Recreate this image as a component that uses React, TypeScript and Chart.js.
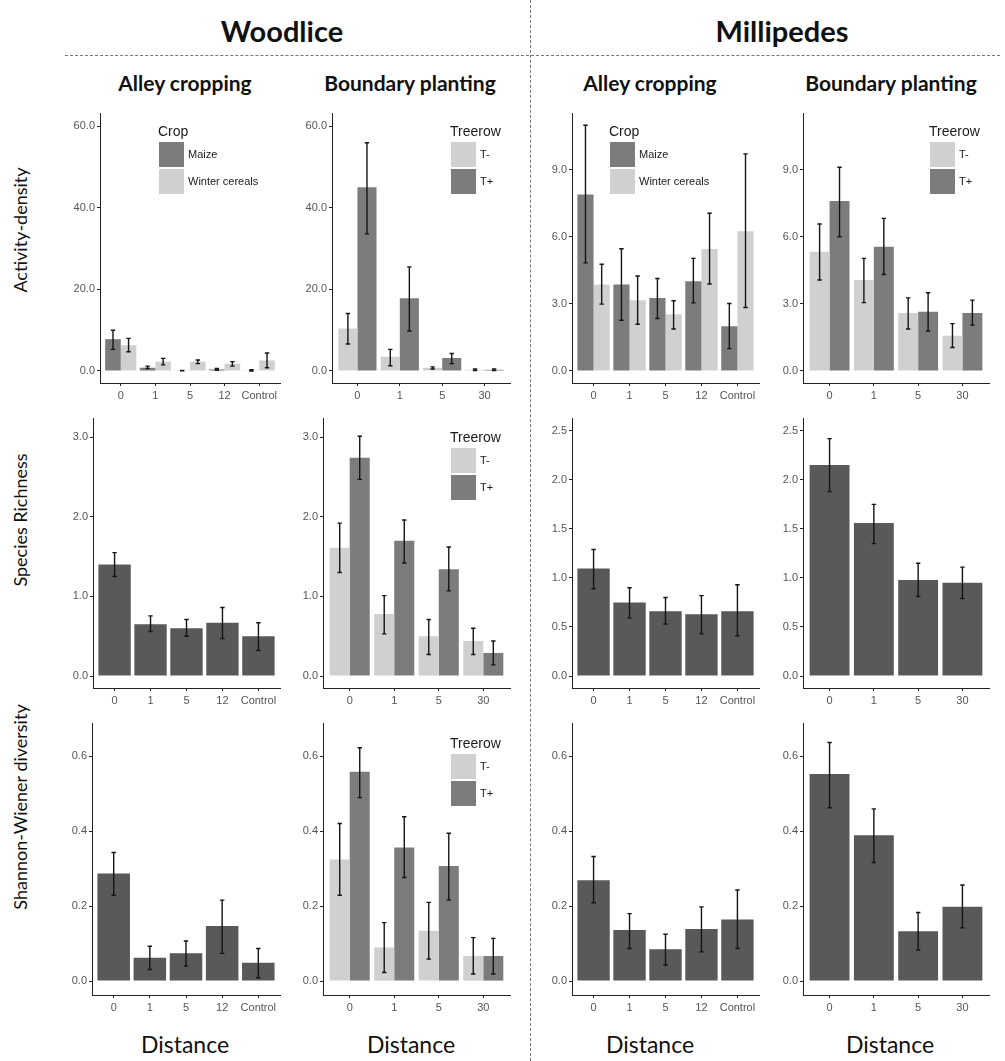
import React, { useEffect, useRef } from "react";
import { Chart, registerables } from "chart.js";
Chart.register(...registerables);

// ---------- categories & series names ----------
const alleyDistances = ["0", "1", "5", "12", "Control"];
const boundaryDistances = ["0", "1", "5", "30"];
const cropSeries = ["Maize", "Winter cereals"];
const treerowSeries = ["T-", "T+"];

// ---------- tick values ----------
const woodActTicks = [0, 20, 40, 60];
const milliActTicks = [0, 3, 6, 9];
const woodRichTicks = [0, 1, 2, 3];
const milliRichTicks = [0, 0.5, 1, 1.5, 2, 2.5];
const shannonTicks = [0, 0.2, 0.4, 0.6];

// ---------- Woodlice: activity-density ----------
const wlAlleyActMaize = [7.8, 0.8, 0.1, 0.4, 0.1];
const wlAlleyActMaizeLo = [5.3, 0.6, 0.05, 0.2, 0.0];
const wlAlleyActMaizeHi = [10.0, 1.2, 0.15, 0.6, 0.3];
const wlAlleyActWinter = [6.3, 2.3, 2.3, 1.8, 2.6];
const wlAlleyActWinterLo = [4.7, 1.5, 1.8, 1.2, 0.8];
const wlAlleyActWinterHi = [8.0, 3.1, 2.7, 2.3, 4.4];

const wlBoundActTminus = [10.4, 3.5, 0.8, 0.3];
const wlBoundActTminusLo = [6.6, 1.3, 0.5, 0.1];
const wlBoundActTminusHi = [14.1, 5.3, 1.0, 0.5];
const wlBoundActTplus = [45.0, 17.8, 3.2, 0.3];
const wlBoundActTplusLo = [33.6, 9.8, 1.8, 0.1];
const wlBoundActTplusHi = [55.9, 25.5, 4.3, 0.5];

// ---------- Millipedes: activity-density ----------
const mpAlleyActMaize = [7.9, 3.87, 3.27, 4.02, 2.0];
const mpAlleyActMaizeLo = [4.84, 2.27, 2.35, 3.05, 1.0];
const mpAlleyActMaizeHi = [11.0, 5.47, 4.14, 5.04, 3.02];
const mpAlleyActWinter = [3.87, 3.17, 2.54, 5.46, 6.26];
const mpAlleyActWinterLo = [2.99, 2.09, 1.88, 3.89, 2.84];
const mpAlleyActWinterHi = [4.78, 4.25, 3.14, 7.06, 9.72];

const mpBoundActTminus = [5.34, 4.07, 2.6, 1.58];
const mpBoundActTminusLo = [4.07, 3.06, 1.88, 1.05];
const mpBoundActTminusHi = [6.58, 5.04, 3.27, 2.12];
const mpBoundActTplus = [7.61, 5.56, 2.65, 2.6];
const mpBoundActTplusLo = [6.01, 4.32, 1.79, 2.05];
const mpBoundActTplusHi = [9.12, 6.83, 3.5, 3.17];

// ---------- Species richness ----------
const wlAlleyRich = [1.4, 0.65, 0.6, 0.67, 0.5];
const wlAlleyRichLo = [1.25, 0.56, 0.5, 0.47, 0.32];
const wlAlleyRichHi = [1.55, 0.755, 0.71, 0.86, 0.67];

const wlBoundRichTminus = [1.61, 0.78, 0.5, 0.44];
const wlBoundRichTminusLo = [1.3, 0.53, 0.27, 0.27];
const wlBoundRichTminusHi = [1.92, 1.01, 0.71, 0.6];
const wlBoundRichTplus = [2.74, 1.7, 1.34, 0.29];
const wlBoundRichTplusLo = [2.47, 1.42, 1.07, 0.14];
const wlBoundRichTplusHi = [3.01, 1.96, 1.62, 0.44];

const mpAlleyRich = [1.095, 0.75, 0.66, 0.63, 0.66];
const mpAlleyRichLo = [0.89, 0.59, 0.53, 0.43, 0.41];
const mpAlleyRichHi = [1.29, 0.9, 0.8, 0.82, 0.93];

const mpBoundRich = [2.15, 1.56, 0.98, 0.95];
const mpBoundRichLo = [1.88, 1.35, 0.81, 0.79];
const mpBoundRichHi = [2.42, 1.75, 1.15, 1.11];

// ---------- Shannon-Wiener diversity ----------
const wlAlleyShan = [0.287, 0.062, 0.074, 0.147, 0.049];
const wlAlleyShanLo = [0.229, 0.031, 0.04, 0.074, 0.009];
const wlAlleyShanHi = [0.343, 0.093, 0.107, 0.216, 0.087];

const wlBoundShanTminus = [0.324, 0.09, 0.134, 0.067];
const wlBoundShanTminusLo = [0.229, 0.023, 0.059, 0.019];
const wlBoundShanTminusHi = [0.42, 0.156, 0.21, 0.116];
const wlBoundShanTplus = [0.558, 0.356, 0.307, 0.067];
const wlBoundShanTplusLo = [0.489, 0.276, 0.216, 0.019];
const wlBoundShanTplusHi = [0.622, 0.438, 0.394, 0.114];

const mpAlleyShan = [0.269, 0.136, 0.085, 0.139, 0.164];
const mpAlleyShanLo = [0.209, 0.087, 0.043, 0.078, 0.087];
const mpAlleyShanHi = [0.332, 0.18, 0.125, 0.198, 0.243];

const mpBoundShan = [0.552, 0.389, 0.133, 0.198];
const mpBoundShanLo = [0.462, 0.316, 0.083, 0.142];
const mpBoundShanHi = [0.636, 0.459, 0.183, 0.256];

// ---------- styling ----------
const DARK = "#595959";
const MID = "#7c7c7c";
const LIGHT = "#d0d0d0";
const AXIS = "#222222";
const TICK = "#555555";
const YW = 45;
const XH = 26;
const PT = 10;
const PR = 12;
const TITLE_FONT = "Lato, 'Open Sans', sans-serif";
const TICK_FONT = "'Liberation Sans', Arial, sans-serif";

type Series = { label: string; mean: number[]; lo: number[]; hi: number[]; color: string };
type Panel = {
  area: [number, number, number, number];
  labels: string[];
  series: Series[];
  yMin: number;
  yMax: number;
  ticks: number[];
  decimals: number;
  legend?: { title: string; dx: number; dy: number };
};

const panels: Panel[] = [
  {
    area: [100, 113, 280, 383], labels: alleyDistances, yMin: -2.94, yMax: 63.2, ticks: woodActTicks, decimals: 1,
    series: [
      { label: cropSeries[0], mean: wlAlleyActMaize, lo: wlAlleyActMaizeLo, hi: wlAlleyActMaizeHi, color: MID },
      { label: cropSeries[1], mean: wlAlleyActWinter, lo: wlAlleyActWinterLo, hi: wlAlleyActWinterHi, color: LIGHT },
    ],
    legend: { title: "Crop", dx: 59, dy: 29 },
  },
  {
    area: [332, 113, 510, 383], labels: boundaryDistances, yMin: -2.94, yMax: 63.2, ticks: woodActTicks, decimals: 1,
    series: [
      { label: treerowSeries[0], mean: wlBoundActTminus, lo: wlBoundActTminusLo, hi: wlBoundActTminusHi, color: LIGHT },
      { label: treerowSeries[1], mean: wlBoundActTplus, lo: wlBoundActTplusLo, hi: wlBoundActTplusHi, color: MID },
    ],
    legend: { title: "Treerow", dx: 119, dy: 29 },
  },
  {
    area: [572, 113, 759, 383], labels: alleyDistances, yMin: -0.54, yMax: 11.55, ticks: milliActTicks, decimals: 1,
    series: [
      { label: cropSeries[0], mean: mpAlleyActMaize, lo: mpAlleyActMaizeLo, hi: mpAlleyActMaizeHi, color: MID },
      { label: cropSeries[1], mean: mpAlleyActWinter, lo: mpAlleyActWinterLo, hi: mpAlleyActWinterHi, color: LIGHT },
    ],
    legend: { title: "Crop", dx: 38, dy: 29 },
  },
  {
    area: [803, 113, 989, 383], labels: boundaryDistances, yMin: -0.54, yMax: 11.55, ticks: milliActTicks, decimals: 1,
    series: [
      { label: treerowSeries[0], mean: mpBoundActTminus, lo: mpBoundActTminusLo, hi: mpBoundActTminusHi, color: LIGHT },
      { label: treerowSeries[1], mean: mpBoundActTplus, lo: mpBoundActTplusLo, hi: mpBoundActTplusHi, color: MID },
    ],
    legend: { title: "Treerow", dx: 127, dy: 29 },
  },
  {
    area: [93, 418, 280, 688], labels: alleyDistances, yMin: -0.15, yMax: 3.24, ticks: woodRichTicks, decimals: 1,
    series: [{ label: "", mean: wlAlleyRich, lo: wlAlleyRichLo, hi: wlAlleyRichHi, color: DARK }],
  },
  {
    area: [323, 418, 510, 688], labels: boundaryDistances, yMin: -0.15, yMax: 3.24, ticks: woodRichTicks, decimals: 1,
    series: [
      { label: treerowSeries[0], mean: wlBoundRichTminus, lo: wlBoundRichTminusLo, hi: wlBoundRichTminusHi, color: LIGHT },
      { label: treerowSeries[1], mean: wlBoundRichTplus, lo: wlBoundRichTplusLo, hi: wlBoundRichTplusHi, color: MID },
    ],
    legend: { title: "Treerow", dx: 128, dy: 30 },
  },
  {
    area: [572, 418, 759, 688], labels: alleyDistances, yMin: -0.122, yMax: 2.63, ticks: milliRichTicks, decimals: 1,
    series: [{ label: "", mean: mpAlleyRich, lo: mpAlleyRichLo, hi: mpAlleyRichHi, color: DARK }],
  },
  {
    area: [803, 418, 989, 688], labels: boundaryDistances, yMin: -0.122, yMax: 2.63, ticks: milliRichTicks, decimals: 1,
    series: [{ label: "", mean: mpBoundRich, lo: mpBoundRichLo, hi: mpBoundRichHi, color: DARK }],
  },
  {
    area: [92, 723, 280, 995], labels: alleyDistances, yMin: -0.037, yMax: 0.688, ticks: shannonTicks, decimals: 1,
    series: [{ label: "", mean: wlAlleyShan, lo: wlAlleyShanLo, hi: wlAlleyShanHi, color: DARK }],
  },
  {
    area: [323, 723, 510, 995], labels: boundaryDistances, yMin: -0.037, yMax: 0.688, ticks: shannonTicks, decimals: 1,
    series: [
      { label: treerowSeries[0], mean: wlBoundShanTminus, lo: wlBoundShanTminusLo, hi: wlBoundShanTminusHi, color: LIGHT },
      { label: treerowSeries[1], mean: wlBoundShanTplus, lo: wlBoundShanTplusLo, hi: wlBoundShanTplusHi, color: MID },
    ],
    legend: { title: "Treerow", dx: 128, dy: 31 },
  },
  {
    area: [572, 723, 759, 995], labels: alleyDistances, yMin: -0.037, yMax: 0.688, ticks: shannonTicks, decimals: 1,
    series: [{ label: "", mean: mpAlleyShan, lo: mpAlleyShanLo, hi: mpAlleyShanHi, color: DARK }],
  },
  {
    area: [803, 723, 989, 995], labels: boundaryDistances, yMin: -0.037, yMax: 0.688, ticks: shannonTicks, decimals: 1,
    series: [{ label: "", mean: mpBoundShan, lo: mpBoundShanLo, hi: mpBoundShanHi, color: DARK }],
  },
];

const errorBarPlugin = {
  id: "errorBars",
  afterDatasetsDraw(chart: any) {
    const ctx = chart.ctx;
    const y = chart.scales.y;
    chart.data.datasets.forEach((ds: any, i: number) => {
      const meta = chart.getDatasetMeta(i);
      meta.data.forEach((bar: any, j: number) => {
        const x = bar.x;
        const lo = y.getPixelForValue(ds.errLo[j]);
        const hi = y.getPixelForValue(ds.errHi[j]);
        ctx.save();
        ctx.strokeStyle = "#151515";
        ctx.lineWidth = 1.4;
        ctx.beginPath();
        ctx.moveTo(x, lo);
        ctx.lineTo(x, hi);
        ctx.moveTo(x - 2.2, lo);
        ctx.lineTo(x + 2.2, lo);
        ctx.moveTo(x - 2.2, hi);
        ctx.lineTo(x + 2.2, hi);
        ctx.stroke();
        ctx.restore();
      });
    });
  },
};

const legendPlugin = {
  id: "panelLegend",
  afterDraw(chart: any, _args: any, opts: any) {
    if (!opts || !opts.title) return;
    const ctx = chart.ctx;
    const a = chart.chartArea;
    const x0 = a.left + opts.dx;
    const y0 = a.top + opts.dy;
    ctx.save();
    ctx.fillStyle = "#1a1a1a";
    ctx.font = `14px ${TICK_FONT}`;
    ctx.textBaseline = "alphabetic";
    ctx.textAlign = "left";
    ctx.fillText(opts.title, x0 - 1, y0 - 6);
    chart.data.datasets.forEach((ds: any, i: number) => {
      const ky = y0 + i * 27;
      ctx.fillStyle = ds.backgroundColor;
      ctx.fillRect(x0, ky, 25, 25);
      ctx.fillStyle = "#1a1a1a";
      ctx.font = `11px ${TICK_FONT}`;
      ctx.textBaseline = "middle";
      ctx.fillText(ds.label, x0 + 29, ky + 13);
    });
    ctx.restore();
  },
};

function PanelChart({ p }: { p: Panel }) {
  const ref = useRef<HTMLCanvasElement>(null);
  const [l, t, r, b] = p.area;
  const W = YW + (r - l) + PR;
  const H = PT + (b - t) + XH;
  useEffect(() => {
    const n = p.labels.length;
    const chart = new Chart(ref.current as HTMLCanvasElement, {
      type: "bar",
      data: {
        labels: p.labels,
        datasets: p.series.map((s) => ({
          label: s.label,
          data: s.mean,
          errLo: s.lo,
          errHi: s.hi,
          backgroundColor: s.color,
          borderWidth: 0,
          categoryPercentage: 0.9,
          barPercentage: 1,
        })) as any,
      },
      options: {
        animation: false,
        responsive: false,
        devicePixelRatio: 1,
        layout: { padding: { top: PT, right: PR, left: 0, bottom: 0 } },
        plugins: {
          legend: { display: false },
          tooltip: { enabled: false },
          panelLegend: p.legend ? p.legend : false,
        } as any,
        scales: {
          x: {
            type: "category",
            offset: true,
            grid: { display: true, drawOnChartArea: false, drawTicks: true, tickLength: 3, color: AXIS, offset: false },
            border: { display: true, color: AXIS, width: 1 },
            ticks: { color: TICK, font: { family: TICK_FONT, size: 11 }, padding: 3, maxRotation: 0, autoSkip: false },
            afterFit: (s: any) => { s.height = XH; },
            afterUpdate: (s: any) => { s._startValue = -0.6; s._valueRange = n + 0.2; },
          } as any,
          y: {
            min: p.yMin,
            max: p.yMax,
            grid: { display: true, drawOnChartArea: false, drawTicks: true, tickLength: 3, color: AXIS },
            border: { display: true, color: AXIS, width: 1 },
            ticks: {
              color: TICK,
              font: { family: TICK_FONT, size: 11 },
              padding: 2,
              callback: (v: any) => Number(v).toFixed(p.decimals),
            },
            afterBuildTicks: (s: any) => { s.ticks = p.ticks.map((v) => ({ value: v })); },
            afterFit: (s: any) => { s.width = YW; },
          } as any,
        },
      },
      plugins: [errorBarPlugin, legendPlugin] as any,
    });
    return () => chart.destroy();
  }, []);
  return (
    <canvas
      ref={ref}
      width={W}
      height={H}
      style={{ position: "absolute", left: l - YW, top: t - PT, width: W, height: H }}
    />
  );
}

function Label({ x, y, text, size, bold, rotate }: { x: number; y: number; text: string; size: number; bold?: boolean; rotate?: boolean }) {
  return (
    <div
      style={{
        position: "absolute",
        left: x,
        top: y,
        transform: `translate(-50%, -50%)${rotate ? " rotate(-90deg)" : ""}`,
        fontFamily: TITLE_FONT,
        fontSize: size,
        fontWeight: bold ? 700 : 400,
        color: "#111",
        whiteSpace: "nowrap",
        lineHeight: 1,
      }}
    >
      {text}
    </div>
  );
}

export default function App() {
  return (
    <div style={{ position: "relative", width: 1005, height: 1061, background: "#fff", overflow: "hidden" }}>
      <style>{`body{margin:0}`}</style>
      <div style={{ position: "absolute", left: 65, top: 55, width: 935, borderTop: "1px dashed #777" }} />
      <div style={{ position: "absolute", left: 530, top: 0, height: 1061, borderLeft: "1px dashed #777" }} />
      <Label x={282} y={30} text="Woodlice" size={29} bold />
      <Label x={782} y={30} text="Millipedes" size={29} bold />
      <Label x={185} y={82} text="Alley cropping" size={21} bold />
      <Label x={410} y={82} text="Boundary planting" size={21} bold />
      <Label x={650} y={82} text="Alley cropping" size={21} bold />
      <Label x={891} y={82} text="Boundary planting" size={21} bold />
      <Label x={20} y={230} text="Activity-density" size={18} rotate />
      <Label x={20} y={520} text="Species Richness" size={18} rotate />
      <Label x={20} y={807} text="Shannon-Wiener diversity" size={18} rotate />
      <Label x={185} y={1044} text="Distance" size={23} />
      <Label x={411} y={1044} text="Distance" size={23} />
      <Label x={650} y={1044} text="Distance" size={23} />
      <Label x={890} y={1044} text="Distance" size={23} />
      {panels.map((p, i) => (
        <PanelChart key={i} p={p} />
      ))}
    </div>
  );
}
